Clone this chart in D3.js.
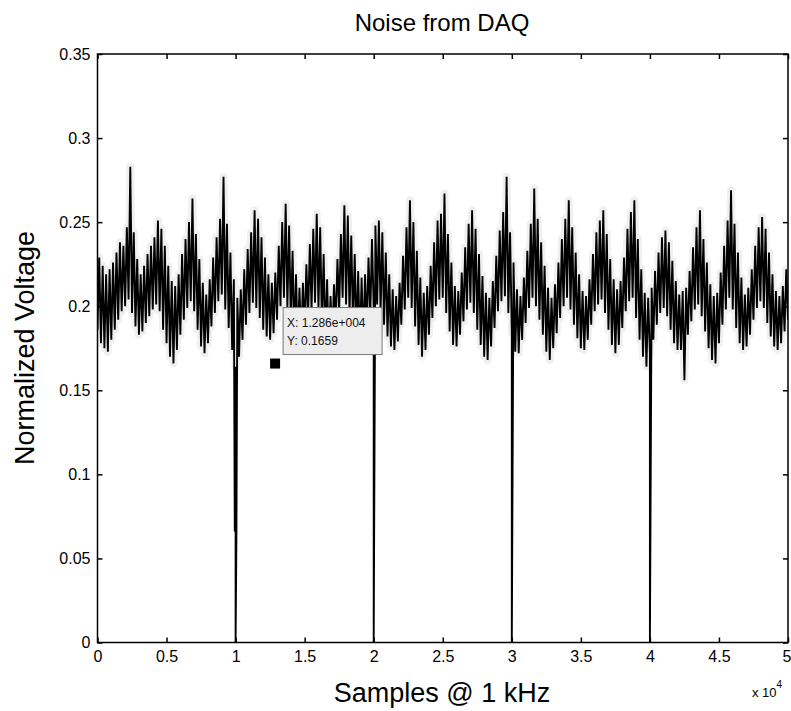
<!DOCTYPE html>
<html>
<head>
<meta charset="utf-8">
<script src="https://cdn.jsdelivr.net/npm/d3@7"></script>
<style>
  html, body { margin: 0; padding: 0; background: #fff; }
  svg { display: block; font-family: "Liberation Sans", Arial, Helvetica, sans-serif; }
</style>
</head>
<body>
<svg id="chart" width="791" height="711"></svg>
<script>
// ---------------- data ----------------
const titleText = "Noise from DAQ";
const xLabelText = "Samples @ 1 kHz";
const yLabelText = "Normalized Voltage";
const xTicks = [0, 5000, 10000, 15000, 20000, 25000, 30000, 35000, 40000, 45000, 50000];
const xTickLabels = ["0", "0.5", "1", "1.5", "2", "2.5", "3", "3.5", "4", "4.5", "5"];
const yTicks = [0, 0.05, 0.1, 0.15, 0.2, 0.25, 0.3, 0.35];
const yTickLabels = ["0", "0.05", "0.1", "0.15", "0.2", "0.25", "0.3", "0.35"];

// envelope of the noisy trace, one low/high pair per block of 250 samples (0 ... 50000)
const blockSize = 250;
const bandHigh = [
  .229,.224,.219,.222,.226,.232,.238,.236,.247,.283,
  .244,.228,.219,.224,.231,.236,.241,.251,.246,.236,
  .224,.215,.212,.219,.231,.240,.250,.264,.243,.228,
  .214,.207,.216,.229,.241,.252,.277,.249,.232,.216,
  .205,.210,.222,.234,.244,.257,.252,.241,.229,.219,
  .214,.220,.236,.250,.261,.248,.233,.219,.211,.214,
  .225,.237,.246,.255,.247,.231,.216,.206,.213,.228,
  .243,.260,.254,.242,.231,.221,.217,.219,.229,.240,
  .248,.251,.244,.232,.219,.210,.206,.214,.230,.247,
  .263,.250,.233,.217,.208,.212,.224,.238,.251,.255,
  .267,.243,.226,.212,.209,.220,.235,.249,.257,.246,
  .231,.218,.208,.205,.215,.230,.245,.256,.277,.244,
  .226,.210,.206,.217,.233,.249,.270,.252,.238,.224,
  .211,.205,.213,.226,.240,.252,.263,.247,.232,.219,
  .209,.206,.216,.231,.244,.251,.257,.243,.228,.216,
  .210,.215,.229,.246,.256,.263,.240,.222,.208,.205,
  .211,.221,.232,.241,.245,.238,.227,.215,.207,.209,
  .211,.221,.235,.247,.257,.240,.226,.213,.206,.208,
  .220,.236,.251,.269,.249,.232,.217,.207,.211,.222,
  .236,.247,.253,.246,.232,.219,.209,.206,.212,.222,
  .230
];
const bandLow = [
  .186,.178,.175,.173,.180,.186,.192,.197,.200,.204,
  .196,.188,.183,.185,.190,.194,.198,.201,.197,.186,
  .178,.170,.166,.174,.183,.192,.199,.203,.197,.186,
  .176,.172,.178,.188,.196,.203,.207,.198,.187,.174,
  .164,.170,.180,.189,.196,.202,.199,.193,.186,.182,
  .180,.184,.192,.200,.205,.199,.190,.181,.177,.178,
  .185,.193,.198,.202,.198,.188,.179,.175,.180,.189,
  .197,.205,.201,.195,.189,.181,.176,.178,.186,.194,
  .199,.201,.197,.189,.182,.176,.174,.179,.189,.198,
  .205,.199,.188,.177,.170,.174,.183,.193,.200,.204,
  .205,.196,.185,.177,.176,.183,.191,.198,.202,.196,
  .186,.177,.170,.168,.176,.187,.197,.203,.206,.196,
  .184,.173,.172,.180,.190,.199,.205,.200,.192,.183,
  .173,.168,.175,.184,.193,.200,.205,.198,.189,.181,
  .175,.174,.180,.189,.197,.201,.204,.196,.186,.177,
  .172,.177,.187,.197,.203,.205,.193,.180,.170,.164,
  .172,.180,.189,.196,.199,.194,.186,.178,.174,.174,
  .156,.183,.191,.198,.201,.194,.185,.175,.168,.166,
  .178,.189,.198,.205,.198,.187,.178,.174,.176,.183,
  .192,.199,.203,.199,.190,.182,.176,.174,.178,.185,
  .192
];
// dropout glitches (sample, value)
const dropSamples = [9940, 10000, 10060, 20000, 30000, 40000];
const dropValues  = [0.066, 0, 0.065, 0, 0, 0];

// data tip
const tipSample = 12860;
const tipValue = 0.1659;
const tipLines = ["X: 1.286e+004", "Y: 0.1659"];

// ---------------- build ----------------
const FONT = '"Liberation Sans", Arial, Helvetica, sans-serif';
const svg = d3.select("#chart");
const x = d3.scaleLinear().domain([0, 50000]).range([97.5, 788]);
const y = d3.scaleLinear().domain([0, 0.35]).range([642.5, 54]);

let band = [];
bandLow.forEach((lo, i) => {
  band.push({ s: i * blockSize, v: lo });
  band.push({ s: i * blockSize + blockSize / 2, v: bandHigh[i] });
});
band = band.filter(d => d.s <= 50000);
let series = band.map(d => d);
dropSamples.forEach((s, i) => series.push({ s: s, v: dropValues[i] }));
series = series.map((d, i) => ({ ...d, k: i })).sort((a, b) => a.s - b.s || a.k - b.k);

const line = d3.line().x(d => x(d.s)).y(d => y(d.v));

svg.append("clipPath").attr("id", "clip").append("rect")
  .attr("x", x(0)).attr("y", y(0.35)).attr("width", x(50000) - x(0)).attr("height", y(0) - y(0.35));
const plot = svg.append("g").attr("clip-path", "url(#clip)");

// light scan halo around the noisy band
plot.append("path").datum(band)
  .attr("d", line).attr("fill", "none")
  .attr("stroke", "#f0f0f0").attr("stroke-width", 8).attr("stroke-linejoin", "round");

plot.append("path").datum(series)
  .attr("d", line).attr("fill", "none")
  .attr("stroke", "#000").attr("stroke-width", 1.9).attr("stroke-linejoin", "miter");

// axes
const tickStyle = g => {
  g.select(".domain").remove();
  g.selectAll(".tick line").attr("stroke", "#000").attr("stroke-width", 1.5);
  g.selectAll(".tick text").attr("fill", "#000").style("font-size", "16px").style("font-family", FONT);
};
const xAxisG = svg.append("g").attr("transform", `translate(0,${y(0)})`)
  .call(d3.axisBottom(x).tickValues(xTicks).tickSizeInner(-5).tickSizeOuter(0).tickPadding(8)
    .tickFormat((d, i) => xTickLabels[i]))
  .call(tickStyle);
xAxisG.selectAll(".tick text").filter((d, i) => i === xTicks.length - 1)
  .attr("text-anchor", "end").attr("dx", 3);
svg.append("g").attr("transform", `translate(0,${y(0.35)})`)
  .call(d3.axisTop(x).tickValues(xTicks).tickSizeInner(-5).tickSizeOuter(0).tickFormat(""))
  .call(tickStyle);
svg.append("g").attr("transform", `translate(${x(0)},0)`)
  .call(d3.axisLeft(y).tickValues(yTicks).tickSizeInner(-5).tickSizeOuter(0).tickPadding(7)
    .tickFormat((d, i) => yTickLabels[i]))
  .call(tickStyle);
svg.append("g").attr("transform", `translate(${x(50000)},0)`)
  .call(d3.axisRight(y).tickValues(yTicks).tickSizeInner(-5).tickSizeOuter(0).tickFormat(""))
  .call(tickStyle);

svg.append("rect")
  .attr("x", x(0)).attr("y", y(0.35))
  .attr("width", x(50000) - x(0)).attr("height", y(0) - y(0.35))
  .attr("fill", "none").attr("stroke", "#000").attr("stroke-width", 1.5);

// data tip
const tx = x(tipSample), ty = y(tipValue);
const tip = svg.append("g");
tip.append("rect")
  .attr("x", tx + 8).attr("y", ty - 56).attr("width", 99).attr("height", 47)
  .attr("fill", "#ededed").attr("stroke", "#777").attr("stroke-width", 1);
tip.selectAll("text").data(tipLines).join("text")
  .attr("x", tx + 12).attr("y", (d, i) => ty - 37 + i * 18)
  .style("font-size", "12px").attr("fill", "#111").text(d => d);
tip.append("rect")
  .attr("x", tx - 5).attr("y", ty - 5).attr("width", 10).attr("height", 10)
  .attr("fill", "#000");

// titles
svg.append("text").attr("x", 442).attr("y", 31).attr("text-anchor", "middle")
  .style("font-size", "24px").attr("fill", "#000").text(titleText);
svg.append("text").attr("x", 442).attr("y", 702).attr("text-anchor", "middle")
  .style("font-size", "27px").attr("fill", "#000").text(xLabelText);
svg.append("text").attr("transform", "translate(34,348) rotate(-90)").attr("text-anchor", "middle")
  .style("font-size", "27px").attr("fill", "#000").text(yLabelText);
const exp = svg.append("text").attr("x", 752).attr("y", 697).style("font-size", "13px").attr("fill", "#000");
exp.append("tspan").text("x 10");
exp.append("tspan").attr("dy", -9).style("font-size", "10px").text("4");
</script>
</body>
</html>
